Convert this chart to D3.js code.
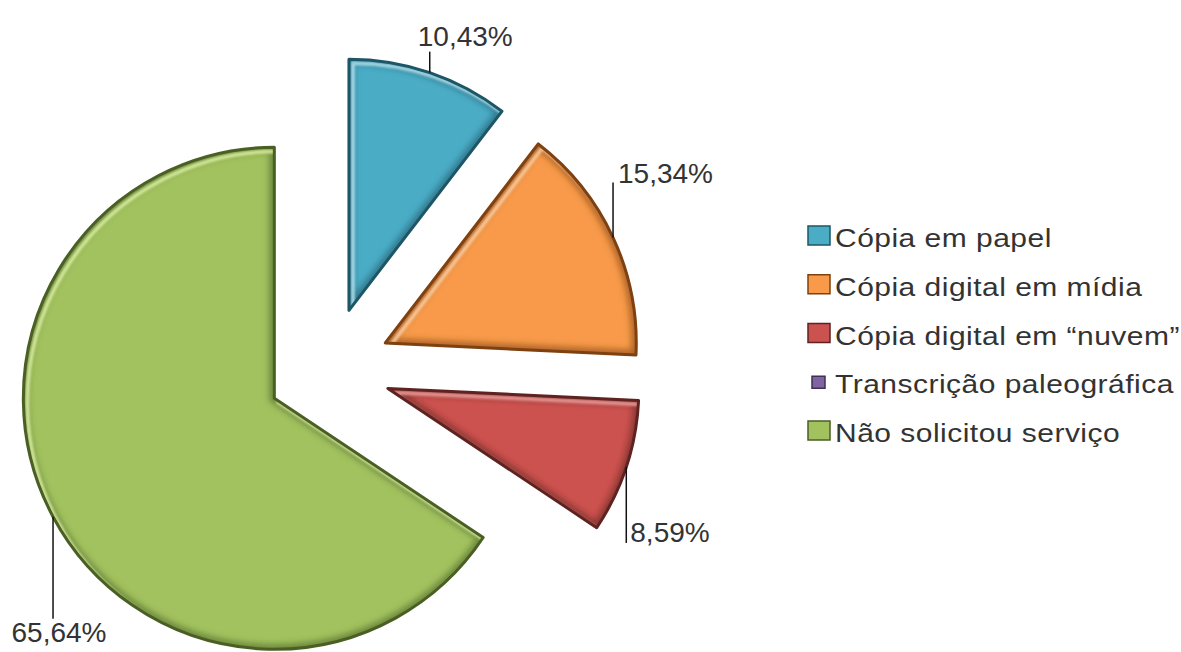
<!DOCTYPE html>
<html>
<head>
<meta charset="utf-8">
<script src="https://cdn.jsdelivr.net/npm/d3@7"></script>
<style>
  body { margin: 0; background: #fff; }
  svg { display: block; }
  text { font-family: "Liberation Sans", Arial, sans-serif; fill: #333; }
</style>
</head>
<body>
<svg id="chart" width="1181" height="652"></svg>
<script>
// data
var categories = ["Cópia em papel", "Cópia digital em mídia", "Cópia digital em “nuvem”", "Transcrição paleográfica", "Não solicitou serviço"];
var values = [10.43, 15.34, 8.59, 0, 65.64];
var valueLabels = ["10,43%", "15,34%", "8,59%", "0,00%", "65,64%"];

var baseColors = ["#4bacc6", "#f89a4a", "#cc524f", "#8064a2", "#a2c25f"];
var darkColors = ["#1d5666", "#7e410f", "#5e2321", "#3f3151", "#4a5f24"];
var lightColors = ["#b6e6f3", "#ffd3a8", "#f3a3a0", "#c2b2d6", "#e0f5a6"];

var svg = d3.select("#chart");
var cx = 329, cy = 369, radius = 251, explode = 62;

var pie = d3.pie().sort(null).value(function(d) { return d; });
var arc = d3.arc().innerRadius(0).outerRadius(radius);

var arcs = pie(values).map(function(d, i) { d.i = i; return d; })
  .filter(function(d) { return d.value > 0; });

var defs = svg.append("defs");
defs.append("filter").attr("id", "blur3").attr("x", "-10%").attr("y", "-10%").attr("width", "120%").attr("height", "120%")
  .append("feGaussianBlur").attr("stdDeviation", 3);
defs.append("filter").attr("id", "blur1").attr("x", "-10%").attr("y", "-10%").attr("width", "120%").attr("height", "120%")
  .append("feGaussianBlur").attr("stdDeviation", 1.3);

arcs.forEach(function(d) {
  defs.append("clipPath").attr("id", "clip" + d.i)
    .append("path").attr("d", arc(d));
});

function midAngle(d) { return (d.startAngle + d.endAngle) / 2; }

var slices = svg.append("g").attr("class", "slices")
  .selectAll("g")
  .data(arcs)
  .enter().append("g")
  .attr("transform", function(d) {
    var a = midAngle(d);
    return "translate(" + (cx + explode * Math.sin(a)) + "," + (cy - explode * Math.cos(a)) + ")";
  });

slices.append("path")
  .attr("d", arc)
  .attr("fill", function(d) { return baseColors[d.i]; });

// bevel: dark rim inside + highlight on upper-left edges
var bevel = slices.append("g")
  .attr("clip-path", function(d) { return "url(#clip" + d.i + ")"; });

bevel.append("path")
  .attr("d", arc)
  .attr("fill", "none")
  .attr("stroke", function(d) { return darkColors[d.i]; })
  .attr("stroke-opacity", 0.6)
  .attr("stroke-width", 10)
  .attr("filter", "url(#blur3)");

bevel.append("path")
  .attr("d", arc)
  .attr("transform", "translate(4,4)")
  .attr("fill", "none")
  .attr("stroke", function(d) { return lightColors[d.i]; })
  .attr("stroke-opacity", 0.8)
  .attr("stroke-width", 4)
  .attr("filter", "url(#blur1)");

slices.append("path")
  .attr("d", arc)
  .attr("fill", "none")
  .attr("stroke", function(d) { return darkColors[d.i]; })
  .attr("stroke-width", 3)
  .attr("stroke-linejoin", "round");

// data labels with leader lines
var labelLayout = {
  0: { len: -21, dx: -12, dy: -6, anchor: "start" },
  1: { len: -55, dx: 5, dy: 0, anchor: "start" },
  2: { len: 76, dx: 4, dy: -1, anchor: "start" },
  4: { len: 102, dx: 6, dy: 23, anchor: "middle" }
};

var labels = svg.append("g").attr("class", "labels")
  .selectAll("g")
  .data(arcs)
  .enter().append("g");

labels.each(function(d) {
  var a = midAngle(d);
  var ox = cx + explode * Math.sin(a), oy = cy - explode * Math.cos(a);
  var x = ox + radius * Math.sin(a), y = oy - radius * Math.cos(a);
  var lay = labelLayout[d.i];
  var g = d3.select(this);
  g.append("line")
    .attr("x1", x).attr("y1", y)
    .attr("x2", x).attr("y2", y + lay.len)
    .attr("stroke", "#111")
    .attr("stroke-width", 1.5);
  g.append("text")
    .attr("x", x + lay.dx)
    .attr("y", y + lay.len + lay.dy)
    .attr("text-anchor", lay.anchor)
    .style("font-size", "28px")
    .text(valueLabels[d.i]);
});

// legend
var legendY = d3.scalePoint().domain(categories).range([247, 442]);

var legend = svg.append("g").attr("class", "legend")
  .selectAll("g")
  .data(categories)
  .enter().append("g")
  .attr("transform", function(d) { return "translate(0," + legendY(d) + ")"; });

legend.append("rect")
  .attr("x", function(d, i) { return i == 3 ? 812 : 808; })
  .attr("y", function(d, i) { return i == 3 ? -17 : -21; })
  .attr("width", function(d, i) { return i == 3 ? 13 : 22; })
  .attr("height", function(d, i) { return i == 3 ? 12 : 19; })
  .attr("fill", function(d, i) { return baseColors[i]; })
  .attr("stroke", function(d, i) { return darkColors[i]; })
  .attr("stroke-width", 1.5);

legend.append("text")
  .attr("transform", "translate(835,0) scale(1.2,1)")
  .style("font-size", "25px")
  .style("letter-spacing", "0.4px")
  .text(function(d) { return d; });
</script>
</body>
</html>
